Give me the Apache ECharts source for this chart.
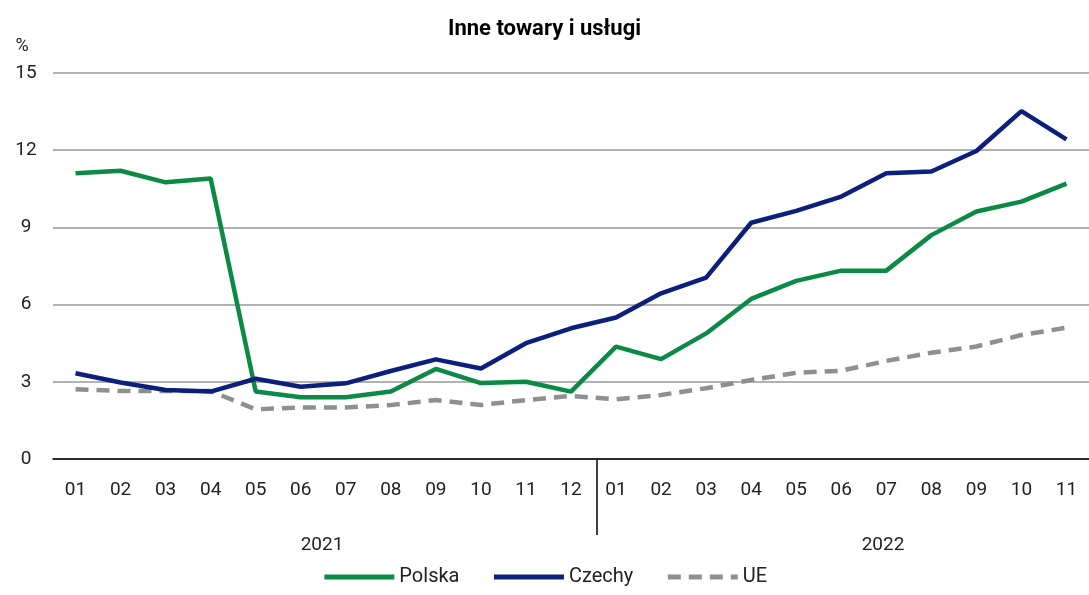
<!DOCTYPE html>
<html>
<head>
<meta charset="utf-8">
<script src="https://cdn.jsdelivr.net/npm/echarts@6/dist/echarts.min.js"></script>
<style>
  html, body { margin: 0; padding: 0; background: #fff; }
  #chart { width: 1089px; height: 595px; }
</style>
</head>
<body>
<div id="chart"></div>
<script>
const months = ['01', '02', '03', '04', '05', '06', '07', '08', '09', '10', '11', '12',
  '01', '02', '03', '04', '05', '06', '07', '08', '09', '10', '11']
const years = ['2021', '2022']

const polska = [11.1, 11.2, 10.75, 10.9, 2.62, 2.4, 2.4, 2.62, 3.5, 2.95, 3.0, 2.62,
  4.37, 3.88, 4.88, 6.22, 6.92, 7.32, 7.32, 8.7, 9.62, 10.0, 10.7]
const czechy = [3.33, 2.97, 2.68, 2.62, 3.12, 2.81, 2.94, 3.42, 3.87, 3.52, 4.5, 5.08,
  5.5, 6.44, 7.05, 9.18, 9.64, 10.2, 11.1, 11.17, 11.97, 13.52, 12.42]
const ue = [2.71, 2.64, 2.64, 2.64, 1.93, 2.0, 2.0, 2.1, 2.29, 2.1, 2.29, 2.45,
  2.32, 2.49, 2.75, 3.07, 3.35, 3.43, 3.81, 4.13, 4.37, 4.82, 5.1]

const font = 'Roboto, "Noto Sans", sans-serif'
const chart = echarts.init(document.getElementById('chart'))

chart.setOption({
  animation: false,
  title: {
    text: 'Inne towary i usługi',
    left: 'center',
    top: 13,
    textStyle: { fontFamily: font, fontSize: 22, fontWeight: 'bold', color: '#000' }
  },
  legend: {
    bottom: 3,
    left: 'center',
    itemWidth: 70,
    itemHeight: 14,
    itemGap: 32,
    itemStyle: { opacity: 0 },
    lineStyle: { width: 5 },
    textStyle: { fontFamily: font, fontSize: 20, color: '#222' },
    data: ['Polska', 'Czechy', 'UE']
  },
  grid: { left: 53, top: 73, width: 1042, bottom: 136 },
  xAxis: {
    type: 'category',
    data: months,
    axisLine: { lineStyle: { color: '#000', width: 1.5 } },
    axisTick: { length: 6, lineStyle: { color: '#000', width: 1.5 } },
    axisLabel: { margin: 22, fontFamily: font, fontSize: 19, color: '#222' }
  },
  yAxis: {
    type: 'value',
    min: 0,
    max: 15,
    interval: 3,
    name: '%',
    nameLocation: 'end',
    nameGap: 18,
    nameTextStyle: { fontFamily: font, fontSize: 18, color: '#222', align: 'center', padding: [0, 0, 0, -62] },
    axisLine: { show: false },
    axisTick: { show: false },
    axisLabel: { align: 'center', margin: 27, fontFamily: font, fontSize: 19, color: '#222' },
    splitLine: { lineStyle: { color: '#999', width: 1.5 } }
  },
  series: [
    {
      name: 'Polska', type: 'line', data: polska, symbol: 'none',
      lineStyle: { color: '#0a8a45', width: 4.5 }, itemStyle: { color: '#0a8a45' }
    },
    {
      name: 'Czechy', type: 'line', data: czechy, symbol: 'none',
      lineStyle: { color: '#0c1f7c', width: 4.5 }, itemStyle: { color: '#0c1f7c' }
    },
    {
      name: 'UE', type: 'line', data: ue, symbol: 'none', z: 1,
      lineStyle: { color: '#8f8f8f', width: 4.5, type: [13, 8] }, itemStyle: { color: '#8f8f8f' }
    }
  ],
  graphic: [
    { type: 'line', shape: { x1: 597, y1: 459, x2: 597, y2: 535 }, style: { stroke: '#000', lineWidth: 1.5 } },
    { type: 'text', x: 322, y: 545, style: { text: years[0], font: '19px ' + font, fill: '#222', align: 'center', verticalAlign: 'middle' } },
    { type: 'text', x: 883, y: 545, style: { text: years[1], font: '19px ' + font, fill: '#222', align: 'center', verticalAlign: 'middle' } }
  ]
})
</script>
</body>
</html>
